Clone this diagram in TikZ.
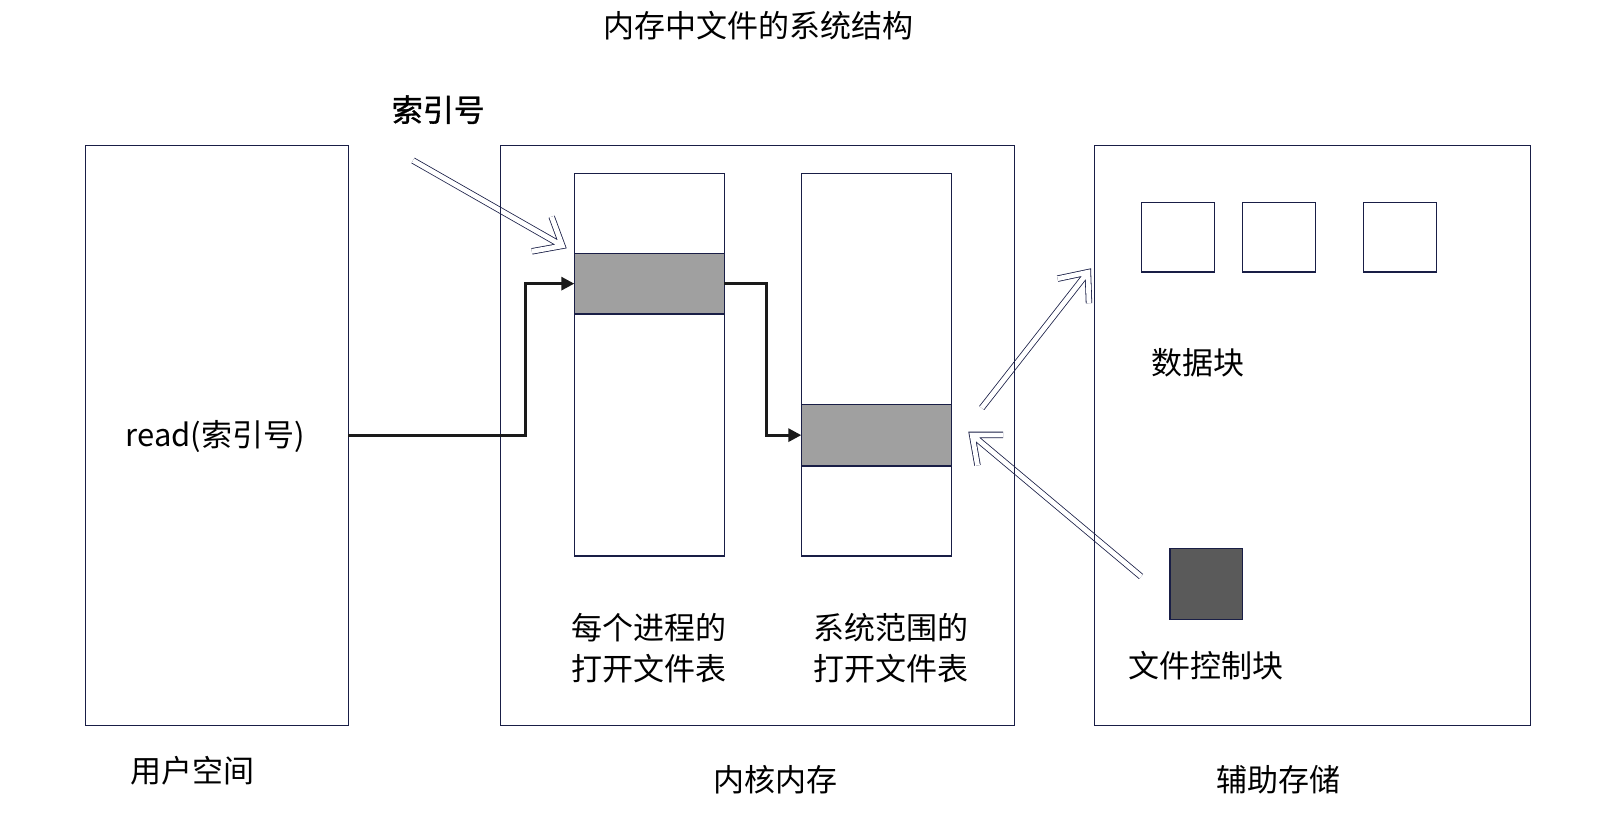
\documentclass[tikz,border=0pt]{standalone}
\usepackage{fontspec}
\setmainfont{Noto Sans CJK SC}
\newfontfamily\idxfont[FakeBold=1.2]{Noto Sans CJK SC}
\usetikzlibrary{arrows.meta,calc}
\definecolor{navy}{RGB}{25,30,70}
\definecolor{bandgray}{RGB}{160,160,160}
\definecolor{fcbgray}{RGB}{90,90,90}
\definecolor{ink}{RGB}{26,26,26}
\newcommand\hollowarrow[2]{%
  \coordinate (hp) at ($(#2)!5pt!(#1)$);
  \draw[hollow] (#1) -- (hp) ($(hp)!31pt!40:(#1)$) -- (hp) -- ($(hp)!31pt!-40:(#1)$);
}
\begin{document}
\begin{tikzpicture}[x=1pt,y=-1pt,
  box/.style={draw=navy, line width=1.2pt, inner sep=0pt, outer sep=0pt, anchor=north west},
  lbl/.style={font=\fontsize{31}{40.5}\selectfont, inner sep=0pt, align=center, text=black},
  conn/.style={draw=ink, line width=3pt, -{Triangle[length=13pt,width=13pt]}},
  hollow/.style={draw=navy, line width=0.8pt, double=white, double distance=4.8pt, line join=miter}]
\useasboundingbox[fill=white] (0,0) rectangle (1614,818);

% hollow arrows (drawn first, box lines show through)
\coordinate (h1t) at (413,160.5);  \coordinate (h1h) at (566.7,248.3);
\coordinate (h2t) at (981.7,408);  \coordinate (h2h) at (1091,268.3);
\coordinate (h3t) at (1141,576.5); \coordinate (h3h) at (968.3,431.7);
\hollowarrow{h1t}{h1h}
\hollowarrow{h2t}{h2h}
\hollowarrow{h3t}{h3h}

% big boxes
\node[box, minimum width=263pt, minimum height=580pt] (user) at (85.3,145.3) {};
\node[box, minimum width=513.8pt, minimum height=580pt] (kernel) at (500.5,145.3) {};
\node[box, minimum width=436pt, minimum height=580pt] (aux) at (1094.3,145.3) {};

% tables
\node[box, fill=white, minimum width=150pt, minimum height=382.7pt] (tab1) at (574.3,173.3) {};
\node[box, fill=bandgray, minimum width=150pt, minimum height=60.7pt] (band1) at (574.3,253.3) {};
\node[box, fill=white, minimum width=150pt, minimum height=382.7pt] (tab2) at (801.3,173.3) {};
\node[box, fill=bandgray, minimum width=150pt, minimum height=61.7pt] (band2) at (801.3,404.3) {};

% data blocks and file control block
\node[box, minimum width=73pt, minimum height=69.7pt] (db1) at (1141.3,202.3) {};
\node[box, minimum width=73pt, minimum height=69.7pt] (db2) at (1242.3,202.3) {};
\node[box, minimum width=73pt, minimum height=69.7pt] (db3) at (1363.3,202.3) {};
\node[box, fill=fcbgray, minimum width=72.7pt, minimum height=71pt] (fcb) at (1170,548.3) {};

% connectors
\coordinate (j1) at (525.7,0);
\coordinate (j2) at (766.7,0);
\draw[conn] (user.east) -| (j1 |- band1.west) -- (band1.west);
\draw[conn] (band1.east) -| (j2 |- band2.west) -- (band2.west);

% labels
\node[lbl] (title) at (758.7,25.5) {内存中文件的系统结构};
\node[lbl, font=\fontsize{31}{40.5}\selectfont\idxfont] (idx) at (438.3,109.7) {索引号};
\node[lbl] (read) at (215.3,437) {read(索引号)};
\node[lbl] (userl) at (192.5,771) {用户空间};
\node[lbl] (kernl) at (775.6,780) {内核内存};
\node[lbl] (auxl) at (1278.4,780) {辅助存储};
\node[lbl] (dbl) at (1198,362.3) {数据块};
\node[lbl] (fcbl) at (1206,666) {文件控制块};
\node[lbl] (t1l) at (649,648) {每个进程的\\打开文件表};
\node[lbl] (t2l) at (891,648) {系统范围的\\打开文件表};
\end{tikzpicture}
\end{document}
